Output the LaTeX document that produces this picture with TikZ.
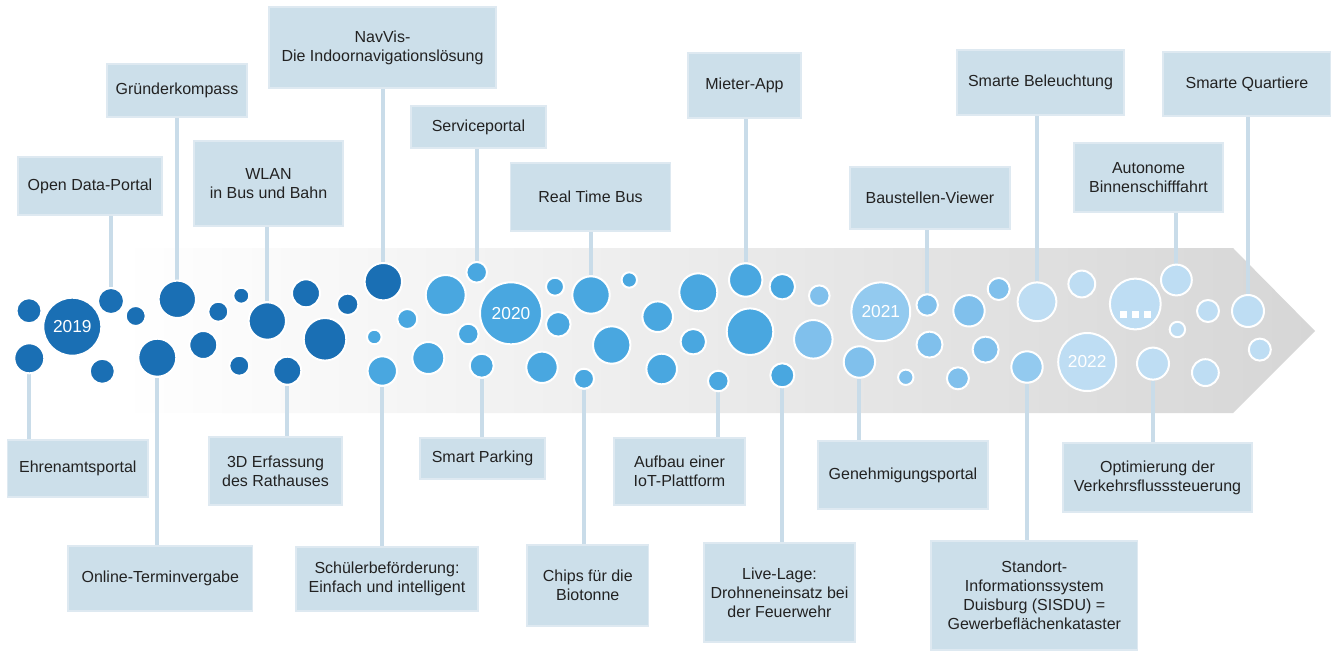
\documentclass[tikz,border=0pt]{standalone}
\usepackage{fontspec}
\setmainfont{Liberation Sans}
\usetikzlibrary{calc}
\definecolor{boxblue}{RGB}{204,223,234}
\definecolor{boxedge}{RGB}{222,233,241}
\definecolor{stemblue}{RGB}{201,220,233}
\definecolor{blue19}{RGB}{26,111,180}
\definecolor{blue20}{RGB}{73,167,224}
\definecolor{blue21}{RGB}{128,192,236}
\definecolor{blue21b}{RGB}{147,202,239}
\definecolor{blue22}{RGB}{190,221,243}
\definecolor{bandgray}{RGB}{214,214,214}
\definecolor{txtgray}{RGB}{34,34,34}
\pgfdeclarelayer{band}
\pgfdeclarelayer{stems}
\pgfsetlayers{band,stems,main}

\begin{document}
\begin{tikzpicture}[x=0.75pt,y=-0.75pt,
	bub/.style={circle,draw=white,line width=1.5pt,inner sep=0pt,minimum size=#1*1.5pt},
	d19/.style={bub=#1,fill=blue19},
	d20/.style={bub=#1,fill=blue20},
	d21/.style={bub=#1,fill=blue21},
	d22/.style={bub=#1,fill=blue22},
	yr/.style={text=white,font=\fontsize{13}{15}\selectfont},
	tag/.style={fill=boxblue,draw=boxedge,line width=1pt,align=center,inner sep=2pt,text=txtgray,font=\fontsize{12}{14.25}\selectfont},
	stem/.style={draw=stemblue,line width=3pt}
	]
	\useasboundingbox (0,0) rectangle (1331,653);

	\begin{pgfonlayer}{band}
		\shade[left color=white,right color=bandgray] (120,248) -- (1233,248) -- (1315,331) -- (1233,413) -- (120,413) -- cycle;
	\end{pgfonlayer}

	\node[d19=12.5] (a1) at (29,310.7) {};
	\node[d19=15] (a2) at (29.3,358.3) {};
	\node[d19=29,yr] (a3) at (72.3,326.7) {2019};
	\node[d19=13] (a4) at (111,301) {};
	\node[d19=10] (a5) at (135.7,316) {};
	\node[d19=12.5] (a6) at (102.3,371.3) {};
	\node[d19=18.7] (a7) at (177.3,299.3) {};
	\node[d19=19] (a8) at (157.3,357.7) {};
	\node[d19=10] (a9) at (218.3,311.7) {};
	\node[d19=8] (a10) at (241.3,295.7) {};
	\node[d19=14] (a11) at (203.3,345) {};
	\node[d19=10] (a12) at (239.3,365.7) {};
	\node[d19=18.7] (a13) at (267.3,321) {};
	\node[d19=14] (a14) at (306,293.3) {};
	\node[d19=14] (a15) at (287.3,370.7) {};
	\node[d19=21.3] (a16) at (325,339.3) {};
	\node[d19=10.7] (a17) at (347.7,304.3) {};
	\node[d19=18.7] (a18) at (383.3,281.7) {};

	\node[d20=10] (b1) at (407.3,319) {};
	\node[d20=7.3] (b2) at (374.3,337) {};
	\node[d20=14.7] (b3) at (382.3,371) {};
	\node[d20=16] (b4) at (428.3,358) {};
	\node[d20=20] (b5) at (445.7,295) {};
	\node[d20=10.3] (b6) at (476.7,272.3) {};
	\node[d20=31,yr] (b7) at (511,313.3) {2020};
	\node[d20=10.3] (b8) at (468.3,334) {};
	\node[d20=12] (b9) at (481.7,365.7) {};
	\node[d20=9] (b10) at (555,286.7) {};
	\node[d20=12.3] (b11) at (558.3,324.3) {};
	\node[d20=15.7] (b12) at (542,367.3) {};
	\node[d20=18.7] (b13) at (591,295) {};
	\node[d20=7.7] (b14) at (629.3,280) {};
	\node[d20=18.7] (b15) at (611.7,345) {};
	\node[d20=10] (b16) at (584,378.7) {};
	\node[d20=15.3] (b17) at (657.7,316.7) {};
	\node[d20=15.3] (b18) at (661.7,369) {};
	\node[d20=19] (b19) at (698.3,292.3) {};
	\node[d20=12.7] (b20) at (693.3,341.7) {};
	\node[d20=10.3] (b21) at (718.3,381) {};
	\node[d20=16.7] (b22) at (745.7,280) {};
	\node[d20=23.3] (b23) at (750,331.7) {};
	\node[d20=12.7] (b24) at (782.3,286.7) {};
	\node[d20=12] (b25) at (782.3,375.3) {};

	\node[d21=10.3] (c1) at (819.3,295.7) {};
	\node[d21=19.3] (c2) at (813.3,339.3) {};
	\node[d21=29.4,fill=blue21b,yr] (c3) at (880.8,311.8) {2021};
	\node[d21=15.7] (c4) at (859.4,362) {};
	\node[d21=10.7] (c5) at (927.2,305) {};
	\node[d21=13] (c6) at (929.5,344.6) {};
	\node[d21=7.7] (c7) at (905.8,377.3) {};
	\node[d21=15.7] (c8) at (969,310.8) {};
	\node[d21=11] (c9) at (998.7,289) {};
	\node[d21=13] (c10) at (985.6,349.6) {};
	\node[d21=11] (c11) at (957.9,378.3) {};
	\node[d21=15.7,fill=blue21b] (c12) at (1027,367) {};

	\node[d22=19.4] (d1) at (1037,301.8) {};
	\node[d22=13.4] (d2) at (1081.8,284) {};
	\node[d22=29,yr] (d3) at (1087.2,362) {2022};
	\node[d22=25.4] (d4) at (1135.3,304) {};
	\node[d22=15.4] (d5) at (1176.4,280) {};
	\node[d22=7.7] (d6) at (1177.4,329.5) {};
	\node[d22=16] (d7) at (1153,363.6) {};
	\node[d22=11] (d8) at (1208,311) {};
	\node[d22=13.4] (d9) at (1205.4,372.6) {};
	\node[d22=16] (d10) at (1248,311) {};
	\node[d22=11] (d11) at (1259.8,349.6) {};
	\foreach \dx in {-12,0,12}
		\fill[white] ($(d4)+(\dx-3.3,7)$) rectangle +(6.6,6.6);

	\node[tag,minimum width=108pt,minimum height=43.5pt] (odp) at (90,186) {Open Data-Portal};
	\node[tag,minimum width=105pt,minimum height=39.75pt] (gk) at (177,90.5) {Gründerkompass};
	\node[tag,minimum width=111.75pt,minimum height=63.75pt] (wlan) at (268.5,183.5) {WLAN\\in Bus und Bahn};
	\node[tag,minimum width=170.25pt,minimum height=60.75pt] (nav) at (382.5,47.5) {NavVis-\\Die Indoornavigationslösung};
	\node[tag,minimum width=101.25pt,minimum height=31.5pt] (svc) at (478.5,127) {Serviceportal};
	\node[tag,minimum width=120pt,minimum height=51pt] (rtb) at (590.5,197) {Real Time Bus};
	\node[tag,minimum width=84.75pt,minimum height=48.75pt] (mieter) at (744.5,85.5) {Mieter-App};
	\node[tag,minimum width=120pt,minimum height=46.5pt] (bau) at (930,198) {Baustellen-Viewer};
	\node[tag,minimum width=125.25pt,minimum height=48.75pt] (beleu) at (1040.5,82.5) {Smarte Beleuchtung};
	\node[tag,minimum width=111.75pt,minimum height=51.75pt] (auto) at (1148.5,177.5) {Autonome\\Binnenschifffahrt};
	\node[tag,minimum width=126pt,minimum height=48pt] (quart) at (1247,84) {Smarte Quartiere};

	\node[tag,minimum width=105.3pt,minimum height=42.75pt] (ehren) at (77.8,468.5) {Ehrenamtsportal};
	\node[tag,minimum width=138.4pt,minimum height=48.75pt] (otv) at (160.3,578.5) {Online-Terminvergabe};
	\node[tag,minimum width=99.75pt,minimum height=51pt] (erf) at (275.5,471) {3D Erfassung\\des Rathauses};
	\node[tag,minimum width=136.5pt,minimum height=48pt] (schul) at (387,579) {Schülerbeförderung:\\Einfach und intelligent};
	\node[tag,minimum width=93.75pt,minimum height=30.75pt] (park) at (482.5,458.5) {Smart Parking};
	\node[tag,minimum width=91.1pt,minimum height=60.75pt] (chips) at (587.8,585.5) {Chips für die\\Biotonne};
	\node[tag,minimum width=98.25pt,minimum height=50.25pt] (iot) at (679.5,471.5) {Aufbau einer\\IoT-Plattform};
	\node[tag,minimum width=113.25pt,minimum height=74.25pt] (live) at (779.5,592.5) {Live-Lage:\\Drohneneinsatz bei\\der Feuerwehr};
	\node[tag,minimum width=127.5pt,minimum height=51pt] (geneh) at (903,475) {Genehmigungsportal};
	\node[tag,minimum width=154.9pt,minimum height=81.75pt] (sisdu) at (1034.3,595.5) {Standort-\\Informationssystem\\Duisburg (SISDU) =\\Gewerbeflächenkataster};
	\node[tag,minimum width=141.75pt,minimum height=51.75pt] (verk) at (1157.5,477.5) {Optimierung der\\Verkehrsflusssteuerung};

	\begin{pgfonlayer}{stems}
		\draw[stem] (a4 |- odp.south) -- (a4);
		\draw[stem] (a7 |- gk.south) -- (a7);
		\draw[stem] (a13 |- wlan.south) -- (a13);
		\draw[stem] (a18 |- nav.south) -- (a18);
		\draw[stem] (b6 |- svc.south) -- (b6);
		\draw[stem] (b13 |- rtb.south) -- (b13);
		\draw[stem] (b22 |- mieter.south) -- (b22);
		\draw[stem] (c5 |- bau.south) -- (c5);
		\draw[stem] (d1 |- beleu.south) -- (d1);
		\draw[stem] (d5 |- auto.south) -- (d5);
		\draw[stem] (d10 |- quart.south) -- (d10);

		\draw[stem] (a2 |- ehren.north) -- (a2);
		\draw[stem] (a8 |- otv.north) -- (a8);
		\draw[stem] (a15 |- erf.north) -- (a15);
		\draw[stem] (b3 |- schul.north) -- (b3);
		\draw[stem] (b9 |- park.north) -- (b9);
		\draw[stem] (b16 |- chips.north) -- (b16);
		\draw[stem] (b21 |- iot.north) -- (b21);
		\draw[stem] (b25 |- live.north) -- (b25);
		\draw[stem] (c4 |- geneh.north) -- (c4);
		\draw[stem] (c12 |- sisdu.north) -- (c12);
		\draw[stem] (d7 |- verk.north) -- (d7);
	\end{pgfonlayer}

\end{tikzpicture}
\end{document}
